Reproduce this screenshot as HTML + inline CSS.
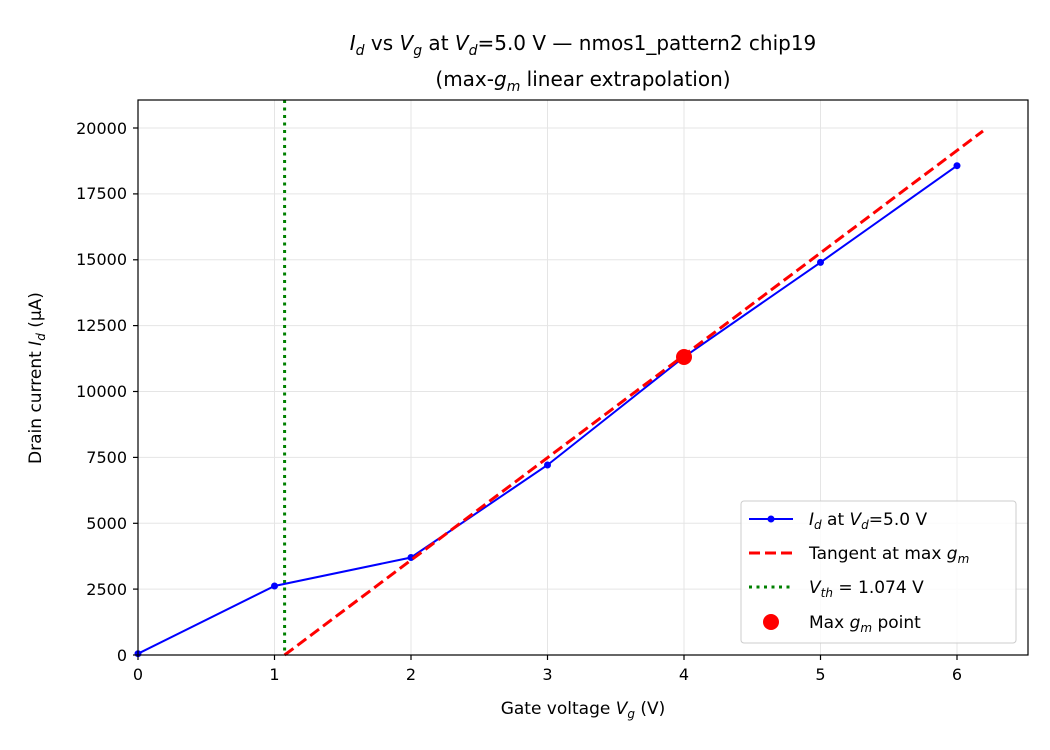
<!DOCTYPE html>
<html><head><meta charset="utf-8"><style>body{margin:0;background:#fff}svg{display:block}text{font-family:"DejaVu Sans","Liberation Sans",sans-serif;fill:#000}</style></head><body>
<svg width="1050" height="750" viewBox="0 0 1050 750">
<rect width="1050" height="750" fill="#fff"/>
<g stroke="#e5e5e5" stroke-width="1">
<line x1="138" y1="100" x2="138" y2="655"/><line x1="274.5" y1="100" x2="274.5" y2="655"/><line x1="411" y1="100" x2="411" y2="655"/><line x1="547.5" y1="100" x2="547.5" y2="655"/><line x1="684" y1="100" x2="684" y2="655"/><line x1="820.5" y1="100" x2="820.5" y2="655"/><line x1="957" y1="100" x2="957" y2="655"/>
<line x1="138" y1="589.1" x2="1028" y2="589.1"/><line x1="138" y1="523.3" x2="1028" y2="523.3"/><line x1="138" y1="457.4" x2="1028" y2="457.4"/><line x1="138" y1="391.5" x2="1028" y2="391.5"/><line x1="138" y1="325.6" x2="1028" y2="325.6"/><line x1="138" y1="259.8" x2="1028" y2="259.8"/><line x1="138" y1="193.9" x2="1028" y2="193.9"/><line x1="138" y1="128" x2="1028" y2="128"/>
</g>
<line x1="284.6" y1="100" x2="284.6" y2="655" stroke="#008000" stroke-width="3" stroke-dasharray="3,4.5"/>
<polyline points="138,653.7 274.5,586 411,557.5 547.5,465 684,357 820.5,262.4 957,165.7" fill="none" stroke="#0000ff" stroke-width="2"/>
<g fill="#0000ff"><circle cx="138" cy="653.7" r="3.5"/><circle cx="274.5" cy="586" r="3.5"/><circle cx="411" cy="557.5" r="3.5"/><circle cx="547.5" cy="465" r="3.5"/><circle cx="684" cy="357" r="3.5"/><circle cx="820.5" cy="262.4" r="3.5"/><circle cx="957" cy="165.7" r="3.5"/></g>
<line x1="284.6" y1="655" x2="983" y2="131" stroke="#ff0000" stroke-width="3" stroke-dasharray="11,5"/>
<circle cx="684" cy="357" r="8" fill="#ff0000"/>
<rect x="138" y="100" width="890" height="555" fill="none" stroke="#000" stroke-width="1.2"/>
<g stroke="#000" stroke-width="1.2">
<line x1="138" y1="655" x2="138" y2="660"/><line x1="274.5" y1="655" x2="274.5" y2="660"/><line x1="411" y1="655" x2="411" y2="660"/><line x1="547.5" y1="655" x2="547.5" y2="660"/><line x1="684" y1="655" x2="684" y2="660"/><line x1="820.5" y1="655" x2="820.5" y2="660"/><line x1="957" y1="655" x2="957" y2="660"/>
<line x1="133" y1="655" x2="138" y2="655"/><line x1="133" y1="589.1" x2="138" y2="589.1"/><line x1="133" y1="523.3" x2="138" y2="523.3"/><line x1="133" y1="457.4" x2="138" y2="457.4"/><line x1="133" y1="391.5" x2="138" y2="391.5"/><line x1="133" y1="325.6" x2="138" y2="325.6"/><line x1="133" y1="259.8" x2="138" y2="259.8"/><line x1="133" y1="193.9" x2="138" y2="193.9"/><line x1="133" y1="128" x2="138" y2="128"/>
</g>
<g font-size="16" text-anchor="middle">
<text x="138" y="680">0</text><text x="274.5" y="680">1</text><text x="411" y="680">2</text><text x="547.5" y="680">3</text><text x="684" y="680">4</text><text x="820.5" y="680">5</text><text x="957" y="680">6</text>
</g>
<g font-size="16" text-anchor="end">
<text x="127" y="661">0</text><text x="127" y="595">2500</text><text x="127" y="529">5000</text><text x="127" y="463">7500</text><text x="127" y="397">10000</text><text x="127" y="331">12500</text><text x="127" y="265">15000</text><text x="127" y="199">17500</text><text x="127" y="134">20000</text>
</g>
<text x="583" y="714" font-size="17" text-anchor="middle">Gate voltage <tspan font-style="italic">V</tspan><tspan font-style="italic" font-size="12" dy="4">g</tspan><tspan dy="-4"> (V)</tspan></text>
<text transform="translate(41,378) rotate(-90)" font-size="17" text-anchor="middle">Drain current <tspan font-style="italic">I</tspan><tspan font-style="italic" font-size="12" dy="4">d</tspan><tspan dy="-4"> (µA)</tspan></text>
<text x="583" y="50" font-size="20" text-anchor="middle"><tspan font-style="italic">I</tspan><tspan font-style="italic" font-size="14" dy="5">d</tspan><tspan dy="-5"> vs </tspan><tspan font-style="italic">V</tspan><tspan font-style="italic" font-size="14" dy="5">g</tspan><tspan dy="-5"> at </tspan><tspan font-style="italic">V</tspan><tspan font-style="italic" font-size="14" dy="5">d</tspan><tspan dy="-5">=5.0 V — nmos1_pattern2 chip19</tspan></text>
<text x="583" y="86" font-size="20" text-anchor="middle">(max-<tspan font-style="italic">g</tspan><tspan font-style="italic" font-size="14" dy="5">m</tspan><tspan dy="-5"> linear extrapolation)</tspan></text>
<rect x="741" y="501" width="275" height="142" rx="3" fill="#fff" fill-opacity="0.85" stroke="#ccc"/>
<line x1="749" y1="519" x2="793" y2="519" stroke="#0000ff" stroke-width="2"/><circle cx="771" cy="519" r="3.5" fill="#0000ff"/>
<line x1="749" y1="553" x2="793" y2="553" stroke="#ff0000" stroke-width="3" stroke-dasharray="11,5"/>
<line x1="749" y1="587" x2="793" y2="587" stroke="#008000" stroke-width="3" stroke-dasharray="3,4.5"/>
<circle cx="771" cy="622" r="8" fill="#ff0000"/>
<g font-size="17">
<text x="809" y="525"><tspan font-style="italic">I</tspan><tspan font-style="italic" font-size="12" dy="4">d</tspan><tspan dy="-4"> at </tspan><tspan font-style="italic">V</tspan><tspan font-style="italic" font-size="12" dy="4">d</tspan><tspan dy="-4">=5.0 V</tspan></text>
<text x="809" y="559">Tangent at max <tspan font-style="italic">g</tspan><tspan font-style="italic" font-size="12" dy="4">m</tspan></text>
<text x="809" y="593"><tspan font-style="italic">V</tspan><tspan font-style="italic" font-size="12" dy="4">th</tspan><tspan dy="-4"> = 1.074 V</tspan></text>
<text x="809" y="628">Max <tspan font-style="italic">g</tspan><tspan font-style="italic" font-size="12" dy="4">m</tspan><tspan dy="-4"> point</tspan></text>
</g>
</svg>
</body></html>
